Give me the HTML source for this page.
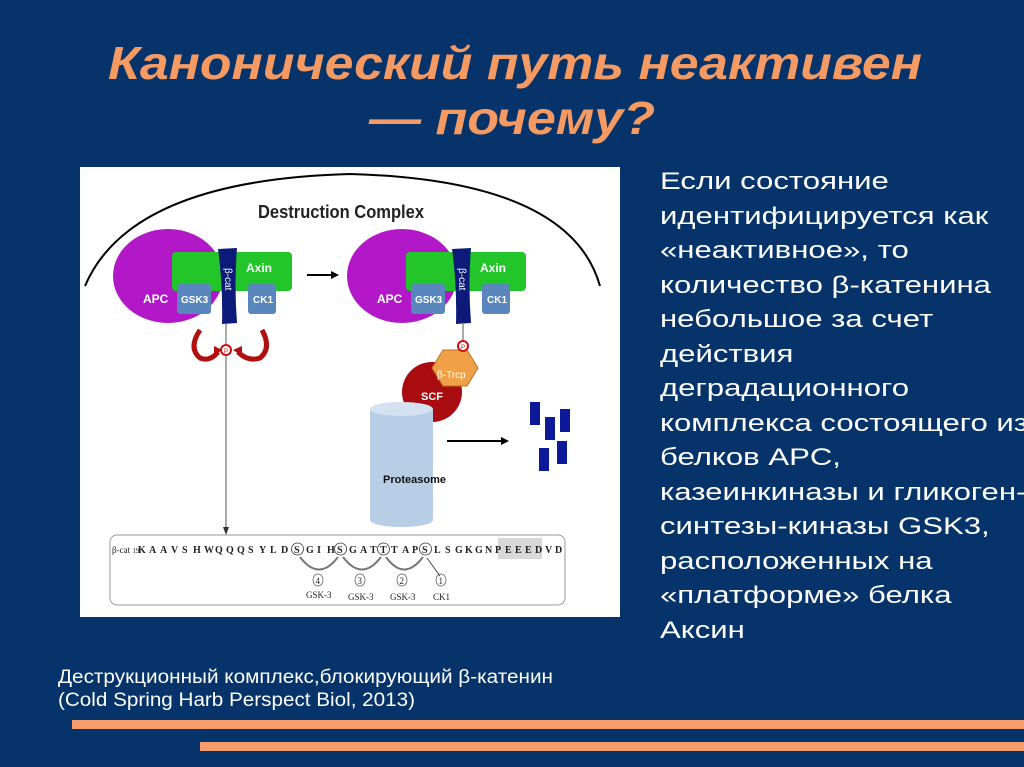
<!DOCTYPE html>
<html><head><meta charset="utf-8"><style>
html,body{margin:0;padding:0;background:#06336a;}
svg{display:block}
</style></head><body>
<svg width="1024" height="767" viewBox="0 0 1024 767" xmlns="http://www.w3.org/2000/svg" font-family="'Liberation Sans', sans-serif">
<rect width="1024" height="767" fill="#06336a"/>
<!-- title -->
<g fill="#f59a62" font-weight="bold" font-style="italic" font-size="46">
<text x="108" y="79" textLength="814" lengthAdjust="spacingAndGlyphs">Канонический путь неактивен</text>
<text x="369" y="134" textLength="286" lengthAdjust="spacingAndGlyphs">— почему?</text>
</g>
<!-- right text -->
<g fill="#ffffff" font-size="24.5" transform="translate(660,0) scale(1.27,1)">
<text x="0" y="189">Если состояние</text>
<text x="0" y="224">идентифицируется как</text>
<text x="0" y="258">«неактивное», то</text>
<text x="0" y="293">количество β-катенина</text>
<text x="0" y="327">небольшое за счет</text>
<text x="0" y="362">действия</text>
<text x="0" y="396">деградационного</text>
<text x="0" y="431">комплекса состоящего из</text>
<text x="0" y="465">белков APC,</text>
<text x="0" y="500">казеинкиназы и гликоген-</text>
<text x="0" y="534">синтезы-киназы GSK3,</text>
<text x="0" y="569">расположенных на</text>
<text x="0" y="603">«платформе» белка</text>
<text x="0" y="638">Аксин</text>
</g>
<!-- caption -->
<g fill="#ffffff" font-size="19">
<text x="58" y="683" textLength="495" lengthAdjust="spacingAndGlyphs">Деструкционный комплекс,блокирующий β-катенин</text>
<text x="58" y="706" textLength="357" lengthAdjust="spacingAndGlyphs">(Cold Spring Harb Perspect Biol, 2013)</text>
</g>
<rect x="72" y="720" width="952" height="9" fill="#f79c6c"/>
<rect x="200" y="742" width="824" height="9" fill="#f79c6c"/>

<!-- diagram -->
<rect x="80" y="167" width="540" height="450" fill="#ffffff"/>
<path d="M85,286 Q130,180 350,174 Q570,180 600,286" fill="none" stroke="#000" stroke-width="2"/>
<text x="258" y="218" font-size="18" font-weight="bold" fill="#222" textLength="166" lengthAdjust="spacingAndGlyphs">Destruction Complex</text>

<!-- left complex -->
<g id="cx">
<ellipse cx="168" cy="276" rx="55" ry="47" fill="#b318c8"/>
<rect x="172" y="252" width="120" height="39" rx="4" fill="#22c52a"/>
<rect x="177" y="284" width="34" height="30" rx="3" fill="#5a86be"/>
<rect x="248" y="284" width="28" height="30" rx="3" fill="#5a86be"/>
<path d="M218,249 L237,248 Q234,285 237,323 L222,324 Q223,285 218,249Z" fill="#0c1a7a"/>
<text x="246" y="272" font-size="12" font-weight="bold" fill="#fff">Axin</text>
<text x="143" y="303" font-size="12" font-weight="bold" fill="#fff">APC</text>
<text x="181" y="303" font-size="10" font-weight="bold" fill="#fff">GSK3</text>
<text x="253" y="303" font-size="10" font-weight="bold" fill="#fff">CK1</text>
<text x="0" y="0" font-size="10" fill="#fff" transform="translate(225,268) rotate(90)">β-cat</text>
</g>
<line x1="226" y1="324" x2="226" y2="345" stroke="#555" stroke-width="1"/>
<circle cx="226" cy="350" r="5" fill="#fff" stroke="#d01010" stroke-width="2"/>
<text x="224" y="353" font-size="6" fill="#d01010">P</text>
<path d="M200,330 Q188,348 200,358 Q210,362 218,352" fill="none" stroke="#b01010" stroke-width="5"/>
<path d="M214,346 L222,350 L214,356Z" fill="#b01010"/>
<path d="M262,330 Q272,348 260,358 Q248,362 238,352" fill="none" stroke="#b01010" stroke-width="5"/>
<path d="M242,346 L233,350 L242,356Z" fill="#b01010"/>
<line x1="226" y1="355" x2="226" y2="528" stroke="#555" stroke-width="1"/>
<path d="M223,527 L229,527 L226,535Z" fill="#333"/>

<!-- arrow -->
<line x1="307" y1="275" x2="332" y2="275" stroke="#000" stroke-width="2"/>
<path d="M331,271 L339,275 L331,279Z" fill="#000"/>

<!-- right complex -->
<use href="#cx" transform="translate(234,0)"/>
<circle cx="432" cy="392" r="30" fill="#a80c10"/>
<text x="421" y="400" font-size="11" font-weight="bold" fill="#fff">SCF</text>
<polygon points="443,350 467,350 478,368 467,386 443,386 432,368" fill="#f0a046" stroke="#c07020" stroke-width="1"/>
<text x="437" y="378" font-size="10" fill="#fff">β-Trcp</text>
<line x1="463" y1="324" x2="463" y2="340" stroke="#555"/>
<circle cx="463" cy="346" r="5" fill="#fff" stroke="#d01010" stroke-width="2"/>
<text x="461" y="349" font-size="6" fill="#d01010">P</text>

<!-- proteasome -->
<rect x="370" y="409" width="63" height="111" fill="#b8cde6"/>
<ellipse cx="401.5" cy="520" rx="31.5" ry="7" fill="#b8cde6"/>
<ellipse cx="401.5" cy="409" rx="31.5" ry="7" fill="#d3e1f0"/>
<text x="383" y="483" font-size="11" font-weight="bold" fill="#111">Proteasome</text>
<line x1="447" y1="441" x2="502" y2="441" stroke="#000" stroke-width="2"/>
<path d="M501,437 L509,441 L501,445Z" fill="#000"/>
<g fill="#0c1a9a">
<rect x="530" y="402" width="10" height="23"/>
<rect x="545" y="417" width="10" height="23"/>
<rect x="560" y="409" width="10" height="23"/>
<rect x="539" y="448" width="10" height="23"/>
<rect x="557" y="441" width="10" height="23"/>
</g>

<!-- sequence -->
<rect x="110" y="535" width="455" height="70" rx="7" fill="#fff" stroke="#999" stroke-width="1"/>
<rect x="498" y="538" width="44" height="21" fill="#d8d8d8"/>
<text x="112" y="553" font-size="9" font-family="'Liberation Serif', serif" fill="#222">β-cat <tspan font-size="7">19</tspan></text>
<text x="138 149 160 171 182 193 204 215 226 237 248 259 270 281 294 306 317 327 337 349 360 370 380 391 402 412 422 434 445 455 465 475 485 495 505 515 525 535 545 555" y="553" font-size="10" font-weight="bold" font-family="'Liberation Serif', serif" fill="#222">KAAVSHWQQQSYLDSGIHSGATTTAPSLSGKGNPEEEDVD</text>
<g fill="none" stroke="#333" stroke-width="0.8">
<circle cx="297.5" cy="549" r="6"/><circle cx="340.5" cy="549" r="6"/><circle cx="383.5" cy="549" r="6"/><circle cx="425.5" cy="549" r="6"/>
</g>
<g fill="none" stroke="#777" stroke-width="2">
<path d="M423,557 Q404,582 386,557"/>
<path d="M381,557 Q362,582 343,557"/>
<path d="M338,557 Q319,582 300,557"/>
</g>
<line x1="440" y1="576" x2="427" y2="558" stroke="#444"/>
<g font-size="9" font-family="'Liberation Serif', serif" fill="#222">
<ellipse cx="318" cy="580" rx="5" ry="6" fill="none" stroke="#555" stroke-width="0.7"/><text x="315.5" y="584">4</text>
<ellipse cx="360" cy="580" rx="5" ry="6" fill="none" stroke="#555" stroke-width="0.7"/><text x="357.5" y="584">3</text>
<ellipse cx="402" cy="580" rx="5" ry="6" fill="none" stroke="#555" stroke-width="0.7"/><text x="399.5" y="584">2</text>
<ellipse cx="441" cy="580" rx="5" ry="6" fill="none" stroke="#555" stroke-width="0.7"/><text x="438.5" y="584">1</text>
<text x="306" y="598">GSK-3</text>
<text x="348" y="600">GSK-3</text>
<text x="390" y="600">GSK-3</text>
<text x="433" y="600">CK1</text>
</g>
</svg>
</body></html>
